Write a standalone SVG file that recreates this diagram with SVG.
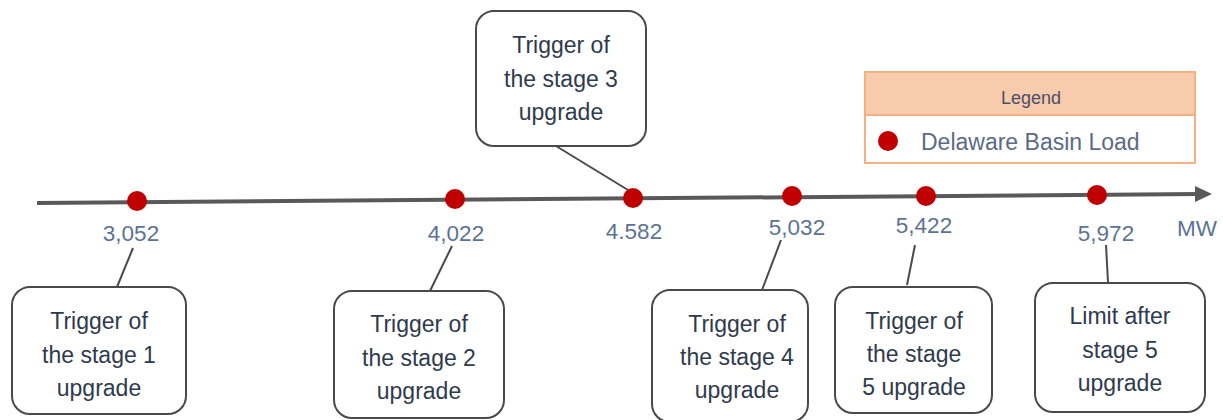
<svg xmlns="http://www.w3.org/2000/svg" width="1223" height="420" viewBox="0 0 1223 420">
<style>
.box{fill:#fff;stroke:#4a4a4a;stroke-width:2}
.bt{font-family:"Liberation Sans",Arial,sans-serif;font-size:23px;fill:#2f3b4c;text-anchor:middle}
.num{font-family:"Liberation Sans",Arial,sans-serif;font-size:22.5px;fill:#5b7393;text-anchor:middle}
.dot{fill:#c00000}
.conn{stroke:#4a4a4a;stroke-width:2;fill:none}
</style>
<g id="axis">
<path d="M37,203 L1200,194" stroke="#595959" stroke-width="4" fill="none"/>
<path d="M1195,186 L1212,194 L1195,202 Z" fill="#595959"/>
<text class="num" x="1197" y="236">MW</text>
</g>
<g id="connectors">
<line class="conn" x1="133" y1="248" x2="117" y2="287"/>
<line class="conn" x1="452" y1="246" x2="430" y2="291"/>
<line class="conn" x1="556" y1="146" x2="628" y2="190"/>
<line class="conn" x1="781" y1="240" x2="762" y2="290"/>
<line class="conn" x1="915" y1="245" x2="907" y2="285"/>
<line class="conn" x1="1106" y1="245" x2="1108" y2="282"/>
</g>
<g id="p1"><circle class="dot" cx="137" cy="201" r="10"/><text class="num" x="131" y="241">3,052</text></g>
<g id="p2"><circle class="dot" cx="455" cy="199" r="10"/><text class="num" x="456" y="241">4,022</text></g>
<g id="p3"><circle class="dot" cx="633" cy="198" r="10"/><text class="num" x="634" y="239">4.582</text></g>
<g id="p4"><circle class="dot" cx="792" cy="196" r="10"/><text class="num" x="797" y="235">5,032</text></g>
<g id="p5"><circle class="dot" cx="926" cy="196" r="10"/><text class="num" x="924" y="233">5,422</text></g>
<g id="p6"><circle class="dot" cx="1097" cy="195" r="10"/><text class="num" x="1106" y="241">5,972</text></g>
<g id="box1"><rect class="box" x="12" y="287" width="174" height="127" rx="18"/>
<text class="bt" x="99" y="329">Trigger of</text><text class="bt" x="99" y="363">the stage 1</text><text class="bt" x="99" y="396">upgrade</text></g>
<g id="box2"><rect class="box" x="334" y="291" width="170" height="127" rx="18"/>
<text class="bt" x="419" y="332">Trigger of</text><text class="bt" x="419" y="366">the stage 2</text><text class="bt" x="419" y="399">upgrade</text></g>
<g id="box3"><rect class="box" x="476" y="11" width="170" height="135" rx="18"/>
<text class="bt" x="561" y="53">Trigger of</text><text class="bt" x="561" y="87">the stage 3</text><text class="bt" x="561" y="120">upgrade</text></g>
<g id="box4"><rect class="box" x="652" y="290" width="156" height="132" rx="18"/>
<text class="bt" x="737" y="332">Trigger of</text><text class="bt" x="737" y="365">the stage 4</text><text class="bt" x="737" y="398">upgrade</text></g>
<g id="box5"><rect class="box" x="835" y="287" width="157" height="126" rx="18"/>
<text class="bt" x="914" y="329">Trigger of</text><text class="bt" x="914" y="362">the stage</text><text class="bt" x="914" y="395">5 upgrade</text></g>
<g id="box6"><rect class="box" x="1035" y="283" width="170" height="129" rx="18"/>
<text class="bt" x="1120" y="324">Limit after</text><text class="bt" x="1120" y="358">stage 5</text><text class="bt" x="1120" y="391">upgrade</text></g>
<g id="legend">
<rect x="865" y="72" width="330" height="91" fill="#fff" stroke="#f4b183" stroke-width="2"/>
<rect x="865" y="72" width="330" height="43" fill="#f8cbad" stroke="#f4b183" stroke-width="2"/>
<text x="1031" y="104" font-family="'Liberation Sans',Arial,sans-serif" font-size="18" fill="#4a5068" text-anchor="middle">Legend</text>
<circle class="dot" cx="888" cy="141" r="10"/>
<text x="921" y="150" font-family="'Liberation Sans',Arial,sans-serif" font-size="23" fill="#5b6b85">Delaware Basin Load</text>
</g>
</svg>
